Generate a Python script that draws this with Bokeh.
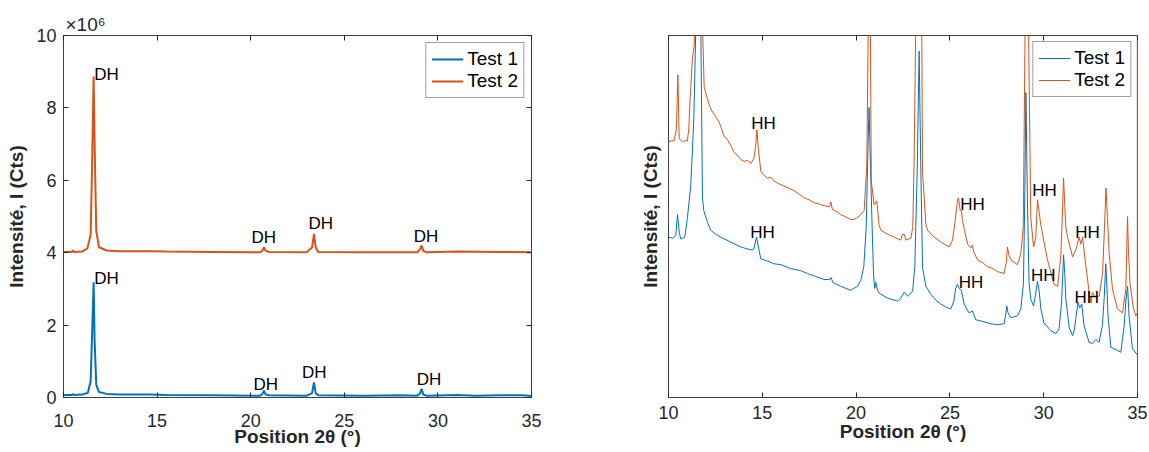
from bokeh.plotting import figure
from bokeh.layouts import row
from bokeh.models import Range1d, LinearAxis, FixedTicker, ColumnDataSource
from bokeh.embed import file_html
from bokeh.resources import INLINE
from bokeh.core.properties import value

FONT = "Liberation Sans"
BLUE = "#0072BD"
ORANGE = "#D95319"
AXC = "#262626"
FIG_H = 452

# ---------------- data : left panel (intensity in 10^6 counts, Test 2 shifted by 4x10^6 as plotted)
x_ticks = [10, 15, 20, 25, 30, 35]
left_y_ticks = [0, 2, 4, 6, 8, 10]

left_t1_x = [10.00, 10.45, 10.50, 10.55, 11.00, 11.30, 11.45, 11.53, 11.61, 11.66, 11.75, 11.90, 12.30, 13.00,
             14.70, 15.50, 18.00, 20.50, 20.62, 20.71, 20.80, 21.00, 23.00, 23.28, 23.38, 23.47, 23.60, 26.00,
             28.05, 28.90, 29.05, 29.13, 29.22, 29.40, 31.06, 32.00, 33.30, 34.50, 35.00]
left_t1_y = [0.07, 0.07, 0.10, 0.07, 0.08, 0.13, 0.45, 1.80, 3.18, 1.60, 0.35, 0.15, 0.10, 0.08,
             0.08, 0.07, 0.06, 0.05, 0.09, 0.19, 0.08, 0.06, 0.05, 0.12, 0.42, 0.12, 0.06, 0.05,
             0.06, 0.05, 0.12, 0.24, 0.08, 0.05, 0.07, 0.05, 0.06, 0.06, 0.04]

left_t2_x = [10.00, 10.45, 10.50, 10.55, 11.00, 11.28, 11.45, 11.53, 11.61, 11.67, 11.75, 11.90, 12.30, 13.00,
             14.71, 15.50, 18.00, 20.50, 20.62, 20.71, 20.80, 21.00, 23.00, 23.28, 23.38, 23.47, 23.60, 26.00,
             28.90, 29.05, 29.13, 29.22, 29.40, 31.06, 33.30, 35.00]
left_t2_y = [4.02, 4.02, 4.07, 4.02, 4.03, 4.12, 4.50, 6.50, 8.87, 6.80, 4.60, 4.15, 4.06, 4.04,
             4.04, 4.03, 4.02, 4.01, 4.05, 4.15, 4.05, 4.02, 4.01, 4.15, 4.52, 4.15, 4.02, 4.01,
             4.01, 4.10, 4.20, 4.05, 4.01, 4.03, 4.02, 4.01]

dh_t1_x = [12.30, 20.80, 23.39, 29.52]
dh_t1_y = [3.30, 0.36, 0.68, 0.50]
dh_t2_x = [12.30, 20.70, 23.74, 29.36]
dh_t2_y = [8.92, 4.41, 4.82, 4.45]

# ---------------- data : right panel (zoomed view, relative intensity, no scale shown)
right_t1_x = [10.00, 10.23, 10.39, 10.48, 10.58, 10.66, 10.87, 11.01, 11.19, 11.35, 11.46, 11.58, 11.72, 11.81,
              11.88, 12.08, 12.25, 12.52, 12.79, 13.32, 13.86, 14.39, 14.55, 14.69, 14.79, 14.92, 15.24, 15.61,
              15.99, 16.52, 17.05, 17.41, 17.85, 18.28, 18.60, 18.66, 18.76, 19.18, 19.45, 19.72, 19.88, 20.07,
              20.25, 20.41, 20.54, 20.62, 20.69, 20.77, 20.87, 20.93, 20.99, 21.05, 21.14, 21.23, 21.67, 22.21,
              22.38, 22.56, 22.74, 23.01, 23.13, 23.26, 23.36, 23.45, 23.54, 23.72, 23.98, 24.25, 24.52, 24.78,
              25.05, 25.21, 25.31, 25.40, 25.49, 25.61, 25.76, 26.02, 26.20, 26.38, 26.82, 27.18, 27.54, 27.89,
              27.98, 28.03, 28.10, 28.25, 28.60, 28.78, 28.92, 28.99, 29.05, 29.13, 29.22, 29.31, 29.46, 29.55,
              29.67, 29.76, 29.85, 30.01, 30.38, 30.65, 30.82, 30.95, 31.06, 31.13, 31.18, 31.36, 31.54, 31.63,
              31.71, 31.83, 31.92, 32.03, 32.15, 32.42, 32.60, 32.78, 32.95, 33.13, 33.23, 33.31, 33.39, 33.43,
              33.58, 33.93, 34.11, 34.29, 34.38, 34.47, 34.55, 34.73, 34.96, 35.00]
right_t1_y = [163, 162, 165, 186, 167, 161, 163, 183, 216, 283, 380, 1500, 380, 203,
              190, 178, 170, 166, 163, 158, 153, 150, 151, 163, 153, 141, 139, 136,
              135, 131, 129, 126, 123, 120, 120, 122, 117, 113, 111, 109, 111, 113,
              119, 133, 173, 243, 295, 233, 163, 125, 111, 117, 109, 106, 101, 98,
              101, 107, 103, 108, 133, 233, 352, 233, 133, 113, 105, 99, 95, 92,
              90, 98, 111, 115, 111, 109, 95, 86, 88, 79, 77, 75, 74, 75,
              85, 93, 86, 81, 83, 90, 116, 203, 310, 203, 116, 100, 93, 103,
              118, 108, 90, 76, 68, 65, 70, 96, 145, 123, 100, 71, 63, 68,
              80, 97, 91, 95, 73, 56, 55, 59, 56, 73, 103, 136, 103, 83,
              51, 48, 46, 73, 98, 113, 83, 50, 44, 43]

right_t2_x = [10.00, 10.18, 10.30, 10.42, 10.50, 10.57, 10.75, 10.87, 11.01, 11.08, 11.15, 11.28, 11.36, 11.43,
              11.59, 11.81, 11.90, 12.08, 12.20, 12.35, 12.50, 12.70, 12.96, 13.15, 13.32, 13.50, 13.68, 13.85,
              14.03, 14.20, 14.39, 14.55, 14.65, 14.71, 14.79, 14.92, 15.10, 15.28, 15.45, 15.63, 15.90, 16.16,
              16.40, 16.70, 16.95, 17.23, 17.50, 17.76, 18.00, 18.29, 18.60, 18.65, 18.74, 18.95, 19.18, 19.40,
              19.72, 19.90, 20.07, 20.25, 20.43, 20.57, 20.65, 20.71, 20.76, 20.81, 20.96, 21.10, 21.23, 21.32,
              21.67, 22.03, 22.38, 22.47, 22.56, 22.65, 22.92, 23.02, 23.09, 23.18, 23.37, 23.50, 23.54, 23.72,
              23.81, 24.16, 24.52, 24.96, 25.14, 25.27, 25.41, 25.46, 25.55, 25.62, 25.67, 25.94, 26.11, 26.20,
              26.27, 26.47, 26.75, 27.00, 27.30, 27.54, 27.89, 28.01, 28.07, 28.14, 28.25, 28.60, 28.78, 28.91,
              29.01, 29.10, 29.19, 29.31, 29.46, 29.58, 29.67, 29.76, 29.85, 30.20, 30.55, 30.74, 30.91, 30.99,
              31.06, 31.13, 31.18, 31.27, 31.54, 31.71, 31.89, 31.98, 32.07, 32.25, 32.43, 32.52, 32.60, 32.70,
              32.96, 33.14, 33.24, 33.32, 33.40, 33.49, 33.67, 33.93, 34.20, 34.38, 34.44, 34.47, 34.51, 34.60,
              34.79, 34.91, 34.99, 35.00, 35.00]
right_t2_y = [260, 261, 261, 273, 328, 263, 260, 261, 261, 273, 303, 346, 356, 380,
              2000, 380, 316, 303, 296, 290, 286, 280, 266, 262, 256, 249, 246, 242,
              240, 241, 238, 243, 256, 272, 253, 230, 226, 223, 224, 220, 217, 215,
              213, 210, 207, 203, 201, 198, 197, 195, 194, 199, 191, 189, 186, 184,
              181, 181, 183, 186, 190, 236, 380, 1000, 380, 220, 196, 200, 175, 170,
              166, 163, 160, 166, 166, 160, 162, 173, 236, 380, 1500, 380, 230, 176,
              170, 163, 158, 153, 160, 178, 201, 203, 190, 190, 180, 156, 152, 155,
              148, 140, 137, 133, 131, 128, 126, 138, 153, 145, 140, 135, 146, 173,
              380, 1500, 380, 183, 153, 163, 201, 188, 175, 140, 115, 113, 143, 183,
              223, 193, 173, 163, 143, 150, 163, 156, 163, 133, 106, 96, 107, 103,
              103, 126, 173, 213, 183, 146, 110, 90, 86, 110, 163, 184, 153, 116,
              90, 83, 86, 2000, -50]

hh_t1_x = [15.01, 26.13, 29.98, 32.29]
hh_t1_y = [168, 117, 124, 102]
hh_t2_x = [15.07, 26.20, 30.04, 32.33]
hh_t2_y = [279, 196, 210, 168]

x_label = "Position 2θ (°)"
y_label = "Intensité, I (Cts)"
scale_note = "×10⁶"


def style_axis(ax, ticks, show_labels=True, standoff=10):
    ax.ticker = FixedTicker(ticks=ticks)
    ax.axis_line_color = None
    ax.major_tick_in = 5
    ax.major_tick_out = 0
    ax.minor_tick_line_color = None
    ax.minor_tick_in = 0
    ax.minor_tick_out = 0
    ax.major_tick_line_color = AXC
    ax.major_tick_line_width = 1
    ax.major_label_text_font = FONT
    if show_labels:
        ax.major_label_text_color = AXC
        ax.major_label_text_font_size = "18px"
        ax.major_label_standoff = standoff
    else:
        ax.major_label_text_color = None
        ax.major_label_text_font_size = "0px"
        ax.major_label_standoff = 0


def style_axis_label(ax, text, standoff):
    ax.axis_label = text
    ax.axis_label_text_font = FONT
    ax.axis_label_text_font_style = "bold"
    ax.axis_label_text_font_size = "19px"
    ax.axis_label_text_color = AXC
    ax.axis_label_standoff = standoff


def base_fig(width, y_end, bl, br, bt, bb):
    p = figure(width=width, height=FIG_H, x_range=Range1d(10, 35), y_range=Range1d(0, y_end),
               output_backend="svg", toolbar_location=None,
               min_border_left=bl, min_border_right=br, min_border_top=bt, min_border_bottom=bb)
    p.xgrid.visible = False
    p.ygrid.visible = False
    p.background_fill_color = "white"
    p.border_fill_color = "white"
    p.outline_line_color = "#404040"
    p.outline_line_width = 1
    bottom_axis = p.below[0]
    left_axis = p.left[0]
    top = LinearAxis()
    style_axis(top, x_ticks, False)
    p.add_layout(top, "above")
    return p, bottom_axis, left_axis


def style_legend(p):
    lg = p.legend[0]
    lg.location = "top_right"
    lg.margin = 7
    lg.padding = 5
    lg.spacing = 0
    lg.glyph_width = 32
    lg.glyph_height = 20
    lg.label_standoff = 4
    lg.label_text_font = FONT
    lg.label_text_font_size = "19px"
    lg.label_text_color = "black"
    lg.border_line_color = "#404040"
    lg.border_line_width = 1
    lg.background_fill_color = "white"
    lg.background_fill_alpha = 1


# ---------------- left figure
p1, xa1, ya1 = base_fig(598, 10, 63, 67, 35, FIG_H - 397)
style_axis(xa1, x_ticks, True, 16)
style_axis_label(xa1, x_label, -4)
style_axis(ya1, left_y_ticks, True, 7)
style_axis_label(ya1, y_label, 6)
ra = LinearAxis()
style_axis(ra, left_y_ticks, False)
p1.add_layout(ra, "right")

p1.title.text = scale_note
p1.title.align = "left"
p1.title.offset = 2
p1.title.standoff = 1
p1.title.text_font = FONT
p1.title.text_font_style = "normal"
p1.title.text_font_size = "19px"
p1.title.text_color = AXC

p1.line(left_t1_x, left_t1_y, color=BLUE, line_width=2, legend_label="Test 1")
p1.line(left_t2_x, left_t2_y, color=ORANGE, line_width=2, legend_label="Test 2")
style_legend(p1)

for xs, ys in ((dh_t1_x, dh_t1_y), (dh_t2_x, dh_t2_y)):
    src = ColumnDataSource(dict(x=xs, y=ys, t=["DH"] * len(xs)))
    p1.text(x="x", y="y", text="t", source=src, text_font=value(FONT), text_font_size="17px",
            text_align="center", text_baseline="middle", text_color="black")

# ---------------- right figure
p2, xa2, ya2 = base_fig(549, 368, 70, 10, 35, FIG_H - 403)
style_axis(xa2, x_ticks, True, 8)
style_axis_label(xa2, x_label, -1)
style_axis(ya2, [], False)
style_axis_label(ya2, y_label, 8)

p2.line(right_t1_x, right_t1_y, color=BLUE, line_width=1, legend_label="Test 1")
p2.line(right_t2_x, right_t2_y, color=ORANGE, line_width=1, legend_label="Test 2")
style_legend(p2)
p2.legend[0].margin = 6

for xs, ys in ((hh_t1_x, hh_t1_y), (hh_t2_x, hh_t2_y)):
    src = ColumnDataSource(dict(x=xs, y=ys, t=["HH"] * len(xs)))
    p2.text(x="x", y="y", text="t", source=src, text_font=value(FONT), text_font_size="17px",
            text_align="center", text_baseline="middle", text_color="black")

layout = row(p1, p2)
open("out.html", "w").write(file_html(layout, INLINE))
